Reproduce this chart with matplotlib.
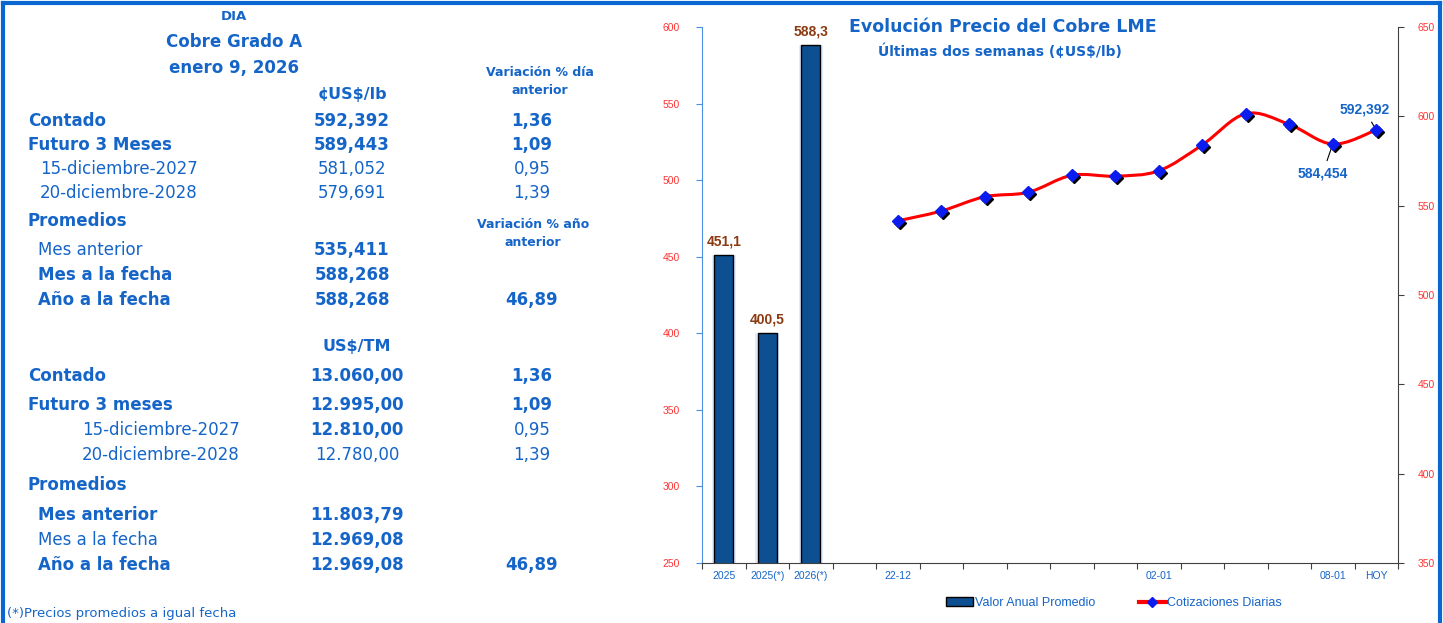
import matplotlib
matplotlib.use("Agg")
import matplotlib.pyplot as plt
from matplotlib.path import Path
from matplotlib.patches import PathPatch, Patch
from matplotlib.lines import Line2D
from matplotlib.transforms import offset_copy

# --- datos ---
anios = ["2025", "2025(*)", "2026(*)"]
valor_anual = [451.1, 400.5, 588.3]

fechas = ["22-12", "", "", "", "", "", "02-01", "", "", "", "08-01", "HOY"]
cotizaciones = [541.5, 547.0, 555.0, 557.5, 567.0, 566.5, 569.5, 584.0,
                601.5, 595.5, 584.454, 592.392]

tabla_lb = [
    ("Contado", "592,392", "1,36", "bold", "bold", "bold"),
    ("Futuro 3 Meses", "589,443", "1,09", "bold", "bold", "bold"),
    ("15-diciembre-2027", "581,052", "0,95", "normal", "normal", "normal"),
    ("20-diciembre-2028", "579,691", "1,39", "normal", "normal", "normal"),
]
promedios_lb = [
    ("Mes anterior", "535,411", "", "normal", "bold", "bold"),
    ("Mes a la fecha", "588,268", "", "bold", "bold", "bold"),
    ("Año a la fecha", "588,268", "46,89", "bold", "bold", "bold"),
]
tabla_tm = [
    ("Contado", "13.060,00", "1,36", "bold", "bold", "bold"),
    ("Futuro 3 meses", "12.995,00", "1,09", "bold", "bold", "bold"),
    ("15-diciembre-2027", "12.810,00", "0,95", "normal", "bold", "normal"),
    ("20-diciembre-2028", "12.780,00", "1,39", "normal", "normal", "normal"),
]
promedios_tm = [
    ("Mes anterior", "11.803,79", "", "bold", "bold", "bold"),
    ("Mes a la fecha", "12.969,08", "", "normal", "bold", "bold"),
    ("Año a la fecha", "12.969,08", "46,89", "bold", "bold", "bold"),
]

AZUL = "#1565c8"
ROJO = "#ff3333"
W, H = 1443, 623

fig = plt.figure(figsize=(W / 100, H / 100), dpi=100)


def px(x, y):
    return x / W, 1 - y / H


def texto(x, y, s, size=12, weight="bold", ha="left", color=AZUL, family="DejaVu Sans"):
    fig.text(*px(x, y), s, fontsize=size, fontweight=weight, ha=ha, va="center",
             color=color, family=family)


# --- tabla izquierda ---
texto(234, 16, "DIA", size=9.5, ha="center")
texto(234, 42, "Cobre Grado A", size=12, ha="center")
texto(234, 68, "enero 9, 2026", size=12, ha="center")
texto(540, 72, "Variación % día", size=9, ha="center")
texto(540, 90, "anterior", size=9, ha="center")
texto(352, 95, "¢US$/lb", size=11.5, ha="center")

filas_y = [121, 145, 169, 193]
for (nom, val, var, w1, w2, w3), y in zip(tabla_lb, filas_y):
    x0 = 28 if w1 == "bold" else 40
    texto(x0, y, nom, weight=w1)
    texto(352, y, val, weight=w2, ha="center")
    texto(532, y, var, weight=w3, ha="center")

texto(28, 221, "Promedios")
texto(533, 225, "Variación % año", size=9, ha="center")
texto(533, 243, "anterior", size=9, ha="center")
for (nom, val, var, w1, w2, w3), y in zip(promedios_lb, [250, 275, 300]):
    texto(38, y, nom, weight=w1)
    texto(352, y, val, weight=w2, ha="center")
    texto(532, y, var, weight=w3, ha="center")

texto(357, 347, "US$/TM", size=11.5, ha="center")
for i, ((nom, val, var, w1, w2, w3), y) in enumerate(zip(tabla_tm, [376, 405, 430, 455])):
    x0 = 28 if i < 2 else 82
    texto(x0, y, nom, weight=w1)
    texto(357, y, val, weight=w2, ha="center")
    texto(532, y, var, weight=w3, ha="center")

texto(28, 485, "Promedios")
for (nom, val, var, w1, w2, w3), y in zip(promedios_tm, [515, 540, 565]):
    texto(38, y, nom, weight=w1)
    texto(357, y, val, weight=w2, ha="center")
    texto(532, y, var, weight=w3, ha="center")

texto(7, 613, "(*)Precios promedios a igual fecha", size=9.5, weight="normal")

# --- grafico ---
l, b = px(702, 563)
r, t = px(1398, 27)
ax = fig.add_axes([l, b, r - l, t - b])
ax2 = ax.twinx()
ax.set_zorder(ax2.get_zorder() + 1)
ax.patch.set_visible(False)

n_bar = len(anios)
x_bar = list(range(n_bar))
x_lin = list(range(n_bar + 1, n_bar + 1 + len(cotizaciones)))
n_tot = n_bar + 1 + len(cotizaciones)

ax.bar(x_bar, valor_anual, width=0.56, color="#cfe0ff", edgecolor="none", alpha=0.6)
ax.bar(x_bar, valor_anual, width=0.44, color="#0e4f91", edgecolor="black", linewidth=1)
for xb, v in zip(x_bar, valor_anual):
    ax.text(xb, v + 4, f"{v:.1f}".replace(".", ","), ha="center", va="bottom",
            fontsize=10, fontweight="bold", color="#8b3a12", family="Liberation Sans")

ax.set_ylim(250, 600)
ax.set_xlim(-0.5, n_tot - 0.5)
ax.set_yticks(range(250, 601, 50))
ax2.set_ylim(350, 650)
ax2.set_yticks(range(350, 651, 50))

# linea suavizada (Catmull-Rom -> Bezier)
pts = list(zip(x_lin, cotizaciones))
verts = [pts[0]]
codes = [Path.MOVETO]
for i in range(len(pts) - 1):
    p0 = pts[i - 1] if i > 0 else pts[i]
    p1, p2 = pts[i], pts[i + 1]
    p3 = pts[i + 2] if i + 2 < len(pts) else pts[i + 1]
    c1 = (p1[0] + (p2[0] - p0[0]) / 6, p1[1] + (p2[1] - p0[1]) / 6)
    c2 = (p2[0] - (p3[0] - p1[0]) / 6, p2[1] - (p3[1] - p1[1]) / 6)
    verts += [c1, c2, p2]
    codes += [Path.CURVE4] * 3
ax2.add_patch(PathPatch(Path(verts, codes), facecolor="none", edgecolor="red", lw=2.2, zorder=2))

sombra = offset_copy(ax2.transData, fig=fig, x=2, y=-2, units="dots")
ax2.plot(x_lin, cotizaciones, "D", color="black", ms=6, transform=sombra, zorder=3)
ax2.plot(x_lin, cotizaciones, "D", color="#0a1cf0", ms=6, zorder=4)

ax2.annotate("592,392", xy=(x_lin[-1], cotizaciones[-1]), xytext=(-12, 20),
             textcoords="offset pixels", ha="center", va="center", fontsize=10,
             fontweight="bold", color=AZUL, family="Liberation Sans",
             arrowprops=dict(arrowstyle="-", color="black", lw=0.8, shrinkA=2, shrinkB=3))
ax2.annotate("584,454", xy=(x_lin[-2], cotizaciones[-2]), xytext=(-10, -29),
             textcoords="offset pixels", ha="center", va="center", fontsize=10,
             fontweight="bold", color=AZUL, family="Liberation Sans",
             arrowprops=dict(arrowstyle="-", color="black", lw=0.8, shrinkA=2, shrinkB=3))

# ejes
etiquetas = anios + [""] + fechas
ax.set_xticks([i - 0.5 for i in range(n_tot + 1)])
ax.set_xticklabels([])
ax.set_xticks(range(n_tot), minor=True)
ax.set_xticklabels(etiquetas, minor=True)
ax.tick_params(axis="x", which="major", length=4, direction="out", color="#404040")
ax.tick_params(axis="x", which="minor", length=0, pad=6, labelsize=7.5, labelcolor=AZUL)
for lab in ax.get_xticklabels(minor=True):
    lab.set_family("Liberation Sans")

ax.tick_params(axis="y", length=4, color="#4a90e2", labelsize=7.5, labelcolor=ROJO, pad=12)
ax2.tick_params(axis="y", length=4, color="#404040", labelsize=7.5, labelcolor=ROJO, pad=10)
for lab in ax.get_yticklabels() + ax2.get_yticklabels():
    lab.set_family("Liberation Sans")

for a in (ax, ax2):
    a.spines["top"].set_visible(False)
ax.spines["right"].set_visible(False)
ax2.spines["left"].set_visible(False)
ax2.spines["bottom"].set_visible(False)
ax.spines["left"].set_color("#4a90e2")
ax.spines["bottom"].set_color("#404040")
ax2.spines["right"].set_color("#404040")

fig.text(*px(1003, 27), "Evolución Precio del Cobre LME", fontsize=12.5, fontweight="bold",
         ha="center", va="center", color=AZUL, family="DejaVu Sans")
fig.text(*px(1000, 51), "Últimas dos semanas (¢US$/lb)", fontsize=10, fontweight="bold",
         ha="center", va="center", color=AZUL, family="DejaVu Sans")

handles = [Patch(facecolor="#0e4f91", edgecolor="black"),
           Line2D([], [], color="red", lw=3, marker="D", ms=5, mfc="#0a1cf0", mec="#0a1cf0")]
leg = fig.legend(handles, ["Valor Anual Promedio", "Cotizaciones Diarias"], loc="center",
                 bbox_to_anchor=px(1114, 603), ncol=2, frameon=False,
                 handlelength=2.2, handletextpad=0.1, columnspacing=3.5,
                 prop={"family": "Liberation Sans", "size": 9})
for txt in leg.get_texts():
    txt.set_color(AZUL)

# borde azul
for xs, ys in [((3, 1440), (3, 3)), ((3, 3), (3, 623)), ((1440, 1440), (3, 623))]:
    fig.add_artist(Line2D([x / W for x in xs], [1 - y / H for y in ys], color="#0a66d0", lw=3))

fig.savefig("out.png", dpi=100)
